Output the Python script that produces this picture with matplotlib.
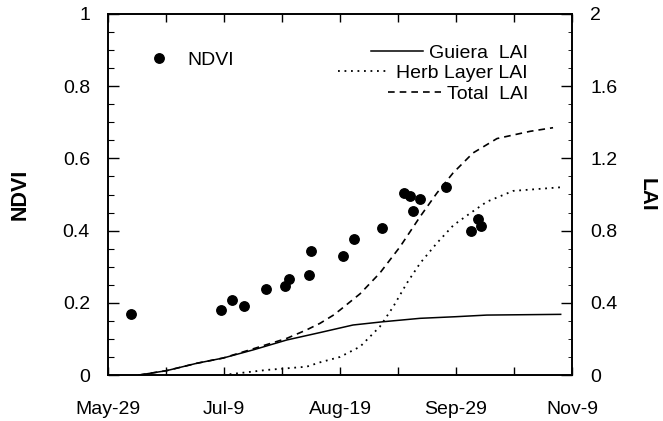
import numpy as np
import matplotlib.pyplot as plt
from matplotlib.ticker import MultipleLocator

plt.rcParams['font.family'] = ['Liberation Sans', 'DejaVu Sans']

# days counted from May-29
tick_days = [0, 41, 82, 123, 164]
tick_labels = ['May-29', 'Jul-9', 'Aug-19', 'Sep-29', 'Nov-9']

# NDVI observations
ndvi_day = [8, 40, 44, 48, 56, 62.7, 63.9, 70.9, 71.7, 82.9, 86.8, 96.9,
            104.6, 106.7, 107.7, 110.2, 119.3, 128.4, 130.6, 131.7]
ndvi = [0.169, 0.18, 0.208, 0.192, 0.239, 0.247, 0.267, 0.277, 0.344, 0.33,
        0.376, 0.408, 0.505, 0.496, 0.454, 0.488, 0.521, 0.40, 0.432, 0.412]

# LAI curves
guiera_day = [11, 20.7, 31.4, 40.7, 51.3, 63.2, 74.9, 86.6, 97.2, 110.3, 123, 133.9, 160]
guiera_lai = [0.0, 0.024, 0.065, 0.094, 0.139, 0.194, 0.235, 0.277, 0.295, 0.314, 0.323, 0.332, 0.336]

herb_day = [40.7, 56.1, 70.2, 74.9, 82, 89.1, 96.1, 100.8, 105.6, 110.3, 116.2,
            122.1, 128, 133.9, 143.2, 160]
herb_lai = [0.0, 0.028, 0.046, 0.07, 0.10, 0.157, 0.268, 0.378, 0.508, 0.619, 0.73,
            0.83, 0.896, 0.96, 1.02, 1.04]

total_day = [11, 20.7, 31.4, 40.7, 51.3, 63.2, 70.2, 74.9, 79.5, 82, 89.1, 96.1, 103.2,
             110.3, 116.2, 122, 129, 137.5, 149.2, 157.3]
total_lai = [0.0, 0.024, 0.065, 0.094, 0.145, 0.203, 0.25, 0.286, 0.33, 0.36, 0.45, 0.565,
             0.71, 0.877, 1.007, 1.12, 1.23, 1.31, 1.35, 1.37]

fig = plt.figure(figsize=(6.63, 4.21), dpi=100)
ax = fig.add_axes([108 / 663, 1 - 375 / 421, 464 / 663, 361 / 421])
ax2 = ax.twinx()

ax.plot(ndvi_day, ndvi, 'o', color='black', markersize=6.8, label='NDVI', zorder=5)

ax2.plot(guiera_day, guiera_lai, '-', color='black', lw=1.1, label='Guiera  LAI')
ax2.plot(herb_day, herb_lai, color='black', lw=1.3, linestyle=(0, (1, 2.6)), label='Herb Layer LAI')
ax2.plot(total_day, total_lai, color='black', lw=1.2, linestyle=(0, (4, 3)), label='Total  LAI')

ax.set_xlim(0, 164)
ax.set_ylim(0, 1)
ax2.set_ylim(0, 2)

ax.set_xticks(tick_days)
ax.set_xticklabels(tick_labels)
ax.xaxis.set_minor_locator(MultipleLocator(20.5))
ax.set_yticks([0, 0.2, 0.4, 0.6, 0.8, 1])
ax.set_yticklabels(['0', '0.2', '0.4', '0.6', '0.8', '1'])
ax.yaxis.set_minor_locator(MultipleLocator(0.05))
ax2.set_yticks([0, 0.4, 0.8, 1.2, 1.6, 2])
ax2.set_yticklabels(['0', '0.4', '0.8', '1.2', '1.6', '2'])
ax2.yaxis.set_minor_locator(MultipleLocator(0.1))

ax.tick_params(axis='x', which='both', direction='in', top=True, length=6, width=1,
               pad=19, labelsize=14)
ax.tick_params(axis='y', which='major', direction='in', length=8, width=1, pad=13, labelsize=14)
ax.tick_params(axis='y', which='minor', direction='in', length=4, width=0.8)
ax2.tick_params(axis='y', which='major', direction='in', length=8, width=1, pad=13, labelsize=14)
ax2.tick_params(axis='y', which='minor', direction='in', length=3, width=0.6)

for a in (ax, ax2):
    for s in a.spines.values():
        s.set_linewidth(1.2)

ax.set_ylabel('NDVI', fontsize=15.5, fontweight='bold', va='center', ha='center')
ax.yaxis.set_label_coords((20 - 108) / 464, 0.5)
ax2.set_ylabel('LAI', fontsize=15, fontweight='bold', rotation=270, va='center', ha='center')
ax2.yaxis.set_label_coords((647 - 108) / 464, 0.5)

ax.legend(loc='center left', bbox_to_anchor=(0.067, 0.872), frameon=False, fontsize=14,
          handletextpad=0.5, borderaxespad=0, borderpad=0)
leg = ax2.legend(loc='upper right', bbox_to_anchor=(0.905, 0.917), frameon=False, fontsize=14,
                 handlelength=2.7, handletextpad=0.3, labelspacing=0.15, borderaxespad=0, borderpad=0)
# right-align the entries like the original key
for col in leg._legend_handle_box.get_children():
    col.align = 'right'

fig.savefig('out.png', dpi=100)
